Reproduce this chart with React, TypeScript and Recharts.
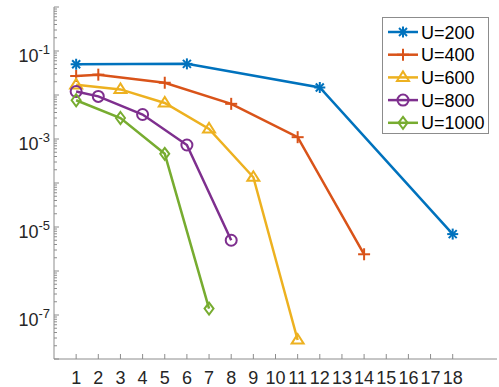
import React from 'react';
import { LineChart, Line, XAxis, YAxis } from 'recharts';

const xTicks = [1, 2, 3, 4, 5, 6, 7, 8, 9, 10, 11, 12, 13, 14, 15, 16, 17, 18];
const labeledExps = [-1, -3, -5, -7];

const u200X = [1, 6, 12, 18];
const u200Y = [0.05, 0.051, 0.0148, 6.9e-6];
const u400X = [1, 2, 5, 8, 11, 14];
const u400Y = [0.027, 0.029, 0.019, 0.0063, 0.0011, 2.4e-6];
const u600X = [1, 3, 5, 7, 9, 11];
const u600Y = [0.017, 0.0134, 0.0066, 0.0017, 1.35e-4, 2.7e-8];
const u800X = [1, 2, 4, 6, 8];
const u800Y = [0.012, 0.0093, 0.0036, 7.3e-4, 5.0e-6];
const u1000X = [1, 3, 5, 7];
const u1000Y = [0.0076, 0.003, 4.6e-4, 1.4e-7];

const series = [
  { name: 'U=200', xs: u200X, ys: u200Y, color: '#0072BD', marker: 'star' },
  { name: 'U=400', xs: u400X, ys: u400Y, color: '#D95319', marker: 'plus' },
  { name: 'U=600', xs: u600X, ys: u600Y, color: '#EDB120', marker: 'triangle' },
  { name: 'U=800', xs: u800X, ys: u800Y, color: '#7E2F8E', marker: 'circle' },
  { name: 'U=1000', xs: u1000X, ys: u1000Y, color: '#77AC30', marker: 'diamond' },
];

// log ticks: every decade plus 2..9 minor ones
const yTicks: number[] = [];
for (let e = -8; e <= 0; e++) {
  for (let m = 1; m <= 9; m++) {
    const v = m * Math.pow(10, e);
    if (v <= 1) yTicks.push(v);
  }
}

const FONT = "Helvetica, 'Liberation Sans', Arial, sans-serif";
const AXIS = '#8c8c8c';

const Marker = ({ type, cx, cy, color }: any) => {
  const sw = 2;
  if (type === 'star') {
    const r = 5.5, d = 4;
    return (
      <g stroke={color} strokeWidth={sw} fill="none">
        <line x1={cx - r} y1={cy} x2={cx + r} y2={cy} />
        <line x1={cx} y1={cy - r} x2={cx} y2={cy + r} />
        <line x1={cx - d} y1={cy - d} x2={cx + d} y2={cy + d} />
        <line x1={cx - d} y1={cy + d} x2={cx + d} y2={cy - d} />
      </g>
    );
  }
  if (type === 'plus') {
    const r = 6;
    return (
      <g stroke={color} strokeWidth={sw} fill="none">
        <line x1={cx - r} y1={cy} x2={cx + r} y2={cy} />
        <line x1={cx} y1={cy - r} x2={cx} y2={cy + r} />
      </g>
    );
  }
  if (type === 'triangle') {
    const r = 6;
    return (
      <polygon
        points={`${cx},${cy - r} ${cx - r},${cy + r * 0.6} ${cx + r},${cy + r * 0.6}`}
        stroke={color}
        strokeWidth={sw}
        fill="none"
      />
    );
  }
  if (type === 'circle') {
    return <circle cx={cx} cy={cy} r={5.5} stroke={color} strokeWidth={sw} fill="none" />;
  }
  const r = 6;
  return (
    <polygon
      points={`${cx},${cy - r} ${cx + r * 0.75},${cy} ${cx},${cy + r} ${cx - r * 0.75},${cy}`}
      stroke={color}
      strokeWidth={sw}
      fill="none"
    />
  );
};

const isMajor = (v: number) => {
  const e = Math.round(Math.log10(v));
  return Math.abs(v - Math.pow(10, e)) / v < 1e-6;
};

const LeftTick = ({ x, y, payload }: any) => {
  const v = payload.value;
  const e = Math.round(Math.log10(v));
  const major = isMajor(v);
  return (
    <g>
      <line x1={x} x2={x + (major ? 5 : 3)} y1={y} y2={y} stroke={AXIS} />
      {major && labeledExps.includes(e) && (
        <text x={x - 4} y={y + 11} textAnchor="end" fill="#262626" fontFamily={FONT}>
          <tspan fontSize={18}>10</tspan>
          <tspan fontSize={13} dy={-8}>{String(e)}</tspan>
        </text>
      )}
    </g>
  );
};

const RightTick = ({ x, y, payload }: any) => {
  const major = isMajor(payload.value);
  return <line x1={x} x2={x - (major ? 5 : 3)} y1={y} y2={y} stroke={AXIS} />;
};

const BottomTick = ({ x, y, payload }: any) => (
  <g>
    <line x1={x} x2={x} y1={y} y2={y - 5} stroke={AXIS} />
    <text x={x} y={y + 25} textAnchor="middle" fontSize={18} fill="#262626" fontFamily={FONT}>
      {payload.value}
    </text>
  </g>
);

const TopTick = ({ x, y }: any) => <line x1={x} x2={x} y1={y} y2={y + 5} stroke={AXIS} />;

const ChartLegend = () => (
  <div
    style={{
      position: 'absolute',
      left: 382,
      top: 17,
      border: `1px solid ${AXIS}`,
      background: 'white',
      width: 107,
      height: 117,
      boxSizing: 'border-box',
    }}
  >
    <svg width={105} height={115} style={{ display: 'block' }}>
      {series.map((s, i) => {
        const cy = 14 + i * 22.7;
        return (
          <g key={s.name}>
            <line x1={5} x2={35} y1={cy} y2={cy} stroke={s.color} strokeWidth={2.5} />
            <Marker type={s.marker} cx={20} cy={cy} color={s.color} />
            <text x={38} y={cy + 6.5} fontSize={18} fill="#000" fontFamily={FONT}>
              {s.name}
            </text>
          </g>
        );
      })}
    </svg>
  </div>
);

export default function App() {
  return (
    <div style={{ position: 'absolute', left: 0, top: 0, width: 499, height: 387, background: 'white' }}>
      <LineChart width={499} height={387} margin={{ top: 7, right: 2, bottom: 0, left: 0 }}>
        <XAxis
          xAxisId="b"
          type="number"
          dataKey="x"
          domain={[0, 20]}
          ticks={xTicks}
          interval={0}
          height={28}
          tickSize={0}
          tickMargin={0}
          tickLine={false}
          axisLine={{ stroke: AXIS }}
          tick={BottomTick}
          allowDataOverflow
        />
        <XAxis
          xAxisId="t"
          orientation="top"
          type="number"
          dataKey="x"
          domain={[0, 20]}
          ticks={xTicks}
          interval={0}
          height={0}
          tickSize={0}
          tickMargin={0}
          tickLine={false}
          axisLine={{ stroke: AXIS }}
          tick={TopTick}
          allowDataOverflow
        />
        <YAxis
          yAxisId="l"
          scale="log"
          type="number"
          domain={[1e-8, 1]}
          ticks={yTicks}
          interval={0}
          width={54}
          tickSize={0}
          tickMargin={0}
          tickLine={false}
          axisLine={{ stroke: AXIS }}
          tick={LeftTick}
          allowDataOverflow
        />
        <YAxis
          yAxisId="r"
          orientation="right"
          scale="log"
          type="number"
          domain={[1e-8, 1]}
          ticks={yTicks}
          interval={0}
          width={0}
          tickSize={0}
          tickMargin={0}
          tickLine={false}
          axisLine={{ stroke: AXIS }}
          tick={RightTick}
          allowDataOverflow
        />
        {series.map((s) => (
          <Line
            key={s.name}
            xAxisId="b"
            yAxisId="l"
            data={s.xs.map((x, i) => ({ x, y: s.ys[i] }))}
            dataKey="y"
            name={s.name}
            stroke={s.color}
            strokeWidth={2.5}
            isAnimationActive={false}
            dot={(p: any) => (
              <Marker key={`${s.name}-${p.index}`} type={s.marker} cx={p.cx} cy={p.cy} color={s.color} />
            )}
            activeDot={false}
          />
        ))}
      </LineChart>
      <ChartLegend />
    </div>
  );
}
